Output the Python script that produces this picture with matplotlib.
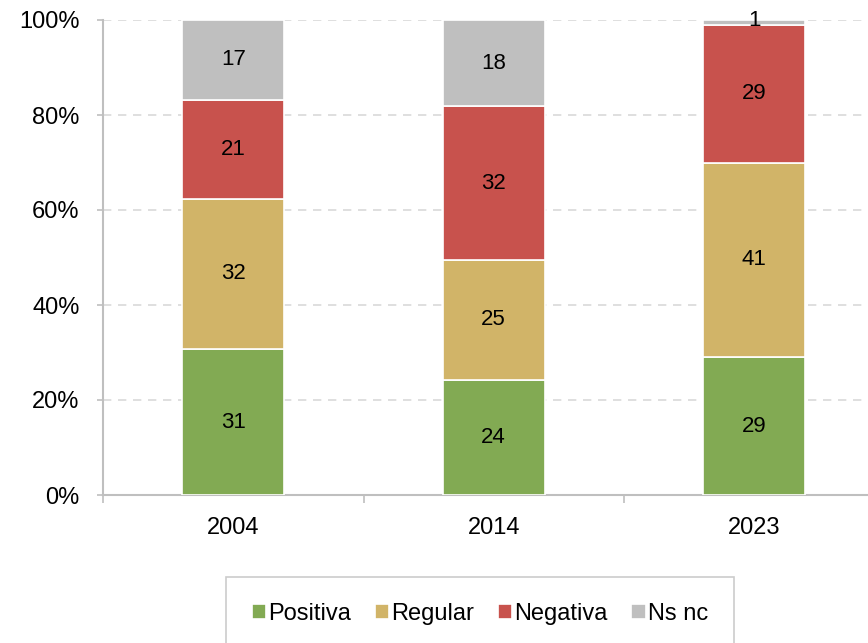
import matplotlib.pyplot as plt
import matplotlib as mpl
import numpy as np
from matplotlib.ticker import PercentFormatter, FixedLocator

# ---- Data ----
years = ["2004", "2014", "2023"]
positiva = [31, 24, 29]
regular = [32, 25, 41]
negativa = [21, 32, 29]
nsnc = [17, 18, 1]

series = [
    ("Positiva", positiva, "#82aa53"),
    ("Regular", regular, "#d1b468"),
    ("Negativa", negativa, "#c8524d"),
    ("Ns nc", nsnc, "#bfbfbf"),
]

# ---- Style ----
mpl.rcParams.update({
    "font.family": ["Liberation Sans", "DejaVu Sans"],
    "font.size": 17,
})

fig = plt.figure(figsize=(8.68, 6.43), dpi=100)
ax = fig.add_axes([103 / 868, 148 / 643, 765 / 868, 475 / 643])

x = np.arange(len(years))
totals = np.sum([s[1] for s in series], axis=0)
bottom = np.zeros(len(years))
for name, vals, color in series:
    share = np.array(vals) / totals * 100
    ax.bar(x, share, width=0.39, bottom=bottom, color=color,
           edgecolor="white", linewidth=1.2, label=name, zorder=3)
    for xi, b, s, v in zip(x, bottom, share, vals):
        ypos = b + s / 2 if s > 4 else b + s - 0.2
        ax.text(xi, ypos, f"{v}", ha="center", va="center",
                fontsize=16, color="black", zorder=4)
    bottom += share

ax.yaxis.set_major_locator(FixedLocator([0, 20, 40, 60, 80, 100]))
ax.yaxis.set_major_formatter(PercentFormatter(decimals=0))
ax.set_xticks(x)
ax.set_xticklabels(years)
ax.set_xticks([-0.5, 0.5, 1.5], minor=True)
ax.set_xlim(-0.5, -0.5 + 765 / 260.5)
ax.set_ylim(0, 100)
ax.tick_params(axis="x", which="major", length=0, pad=16)
ax.tick_params(axis="x", which="minor", length=6, color="#bfbfbf", width=1.2)
ax.tick_params(axis="y", length=4, color="#bfbfbf", width=1.2, pad=13)

ax.yaxis.grid(True, linestyle=(0, (5, 4)), color="#d9d9d9", linewidth=1.2)
ax.set_axisbelow(True)
for sp in ["top", "right"]:
    ax.spines[sp].set_visible(False)
for sp in ["left", "bottom"]:
    ax.spines[sp].set_color("#bfbfbf")
    ax.spines[sp].set_linewidth(1.5)

leg = fig.legend(loc="upper center", bbox_to_anchor=(480 / 868, 1 - 577 / 643),
                 ncol=4, frameon=True, fancybox=False, edgecolor="#bfbfbf",
                 handlelength=0.6, handleheight=0.6, handletextpad=0.1,
                 columnspacing=1.0, borderpad=1.1, borderaxespad=0,
                 fontsize=17)
leg.get_frame().set_linewidth(1.2)

fig.savefig("out.png", dpi=100, facecolor="white")
